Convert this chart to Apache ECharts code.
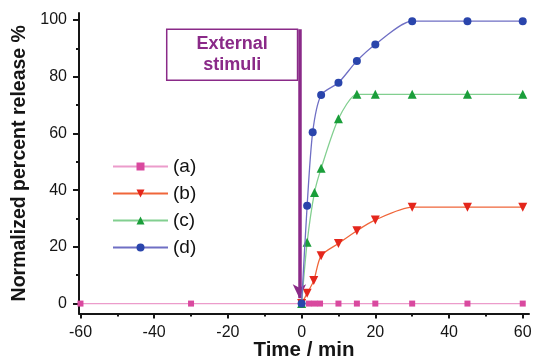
<!DOCTYPE html>
<html><head><meta charset="utf-8">
<script src="https://cdn.jsdelivr.net/npm/echarts@6/dist/echarts.min.js"></script>
<style>html,body{margin:0;padding:0;background:#fff}#c{width:537px;height:360px}</style>
</head><body><div id="c"></div>
<script>
// Data
var seriesNames = ['(a)', '(b)', '(c)', '(d)'];
var aTimes = [-60, -30, 0, 2, 3.5, 5, 10, 15, 20, 30, 45, 60];
var aValues = [0, 0, 0, 0, 0, 0, 0, 0, 0, 0, 0, 0];
var bTimes = [0, 1.5, 3.3, 5.3, 10, 15, 20, 30, 45, 60];
var bValues = [0, 3.6, 8.1, 16.9, 21.2, 25.7, 29.5, 34, 34, 34];
var cTimes = [0, 1.5, 3.5, 5.3, 10, 15, 20, 30, 45, 60];
var cValues = [0, 21.6, 39.2, 47.7, 65.2, 73.8, 73.8, 73.8, 73.8, 73.8];
var dTimes = [0, 1.5, 3, 5.3, 10, 15, 20, 30, 45, 60];
var dValues = [0, 34.5, 60.4, 73.6, 77.9, 85.6, 91.4, 99.6, 99.6, 99.6];
var xTicks = [-60, -40, -20, 0, 20, 40, 60];
var xMinorTicks = [-50, -30, -10, 10, 30, 50];
var yTicks = [0, 20, 40, 60, 80, 100];
var yMinorTicks = [10, 30, 50, 70, 90];
var stimulusLabel = 'External\nstimuli';

function pairs(xs, ys) { return xs.map(function (x, i) { return [x, ys[i]]; }); }

var chart = echarts.init(document.getElementById('c'));
var purple = '#8a2a88';
var font = 'Liberation Sans, Arial, sans-serif';
var axisColor = '#151515';

function mkX(minor) {
  return {
    type: 'value', min: -60.4, max: 61.7, position: 'bottom',
    name: minor ? '' : 'Time / min', nameLocation: 'middle', nameGap: 26, nameMoveOverlap: false,
    nameTextStyle: { fontFamily: font, fontWeight: 'bold', fontSize: 20.5, color: axisColor },
    axisLine: { show: !minor, onZero: false, lineStyle: { color: axisColor, width: 2 } },
    axisTick: { show: true, inside: false, length: minor ? 3 : 5, customValues: minor ? xMinorTicks : xTicks, lineStyle: { color: axisColor, width: 2 } },
    axisLabel: { show: !minor, customValues: xTicks, margin: 11, fontFamily: font, fontSize: 16, color: axisColor },
    splitLine: { show: false }
  };
}
function mkY(minor) {
  return {
    type: 'value', min: -3.5, max: 102.5, position: 'left',
    name: minor ? '' : 'Normalized percent release %', nameLocation: 'middle', nameGap: 49, nameMoveOverlap: false,
    nameTextStyle: { fontFamily: font, fontWeight: 'bold', fontSize: 19.5, color: axisColor },
    axisLine: { show: !minor, onZero: false, lineStyle: { color: axisColor, width: 2 } },
    axisTick: { show: true, inside: false, length: minor ? 3 : 6, customValues: minor ? yMinorTicks : yTicks, lineStyle: { color: axisColor, width: 2 } },
    axisLabel: { show: !minor, customValues: yTicks, margin: 12, fontFamily: font, fontSize: 16, color: axisColor },
    splitLine: { show: false }
  };
}

var styles = [
  { line: '#ec9ccb', mark: '#d9499f', symbol: 'rect', size: 6 },
  { line: '#f0663a', mark: '#e4261c', symbol: 'path://M0,0 L10,0 L5,9 Z', size: 9 },
  { line: '#82cf90', mark: '#1a9e3a', symbol: 'triangle', size: 9 },
  { line: '#6f6fc4', mark: '#2a45ac', symbol: 'circle', size: 8 }
];
var datas = [pairs(aTimes, aValues), pairs(bTimes, bValues), pairs(cTimes, cValues), pairs(dTimes, dValues)];

var series = seriesNames.map(function (n, i) {
  var s = styles[i];
  return {
    name: n, type: 'line', data: datas[i], smooth: i === 0 ? false : 0.25,
    symbol: s.symbol, symbolSize: s.size, showSymbol: true,
    lineStyle: { color: s.line, width: 1.3 },
    itemStyle: { color: s.mark },
    z: 2 + i
  };
});
series[0].markArea = {
  silent: true,
  itemStyle: { color: '#fff', borderColor: purple, borderWidth: 1.5 },
  label: { show: true, position: 'inside', formatter: stimulusLabel, color: purple, fontFamily: font, fontWeight: 'bold', fontSize: 18, lineHeight: 21 },
  data: [[{ coord: [-36.6, 96.8] }, { coord: [-1.1, 78.8] }]]
};
series[0].markLine = {
  silent: true, animation: false,
  symbol: ['none', 'arrow'], symbolSize: [10, 14],
  lineStyle: { color: purple, width: 3.5, type: 'solid' },
  label: { show: false },
  data: [[{ coord: [-0.6, 96.8] }, { coord: [-0.6, 1.9] }]]
};

chart.setOption({
  animation: false,
  grid: { left: 79, right: 8, top: 13, bottom: 46.5, containLabel: false, outerBoundsMode: 'none' },
  legend: {
    orient: 'vertical', left: 107, top: 152,
    itemWidth: 55, itemHeight: 10, itemGap: 8,
    textStyle: { fontFamily: font, fontSize: 19, color: '#111' },
    data: seriesNames
  },
  xAxis: [mkX(false), mkX(true)],
  yAxis: [mkY(false), mkY(true)],
  series: series
});
</script></body></html>
